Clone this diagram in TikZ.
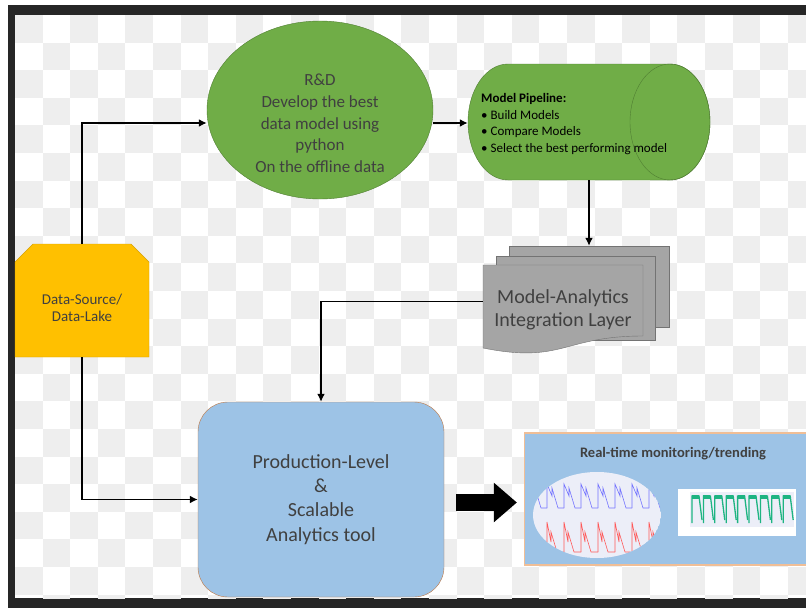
\documentclass[tikz,border=0pt]{standalone}
\usepackage{fontspec}
\setmainfont{Carlito}
\usepackage{xcolor}
\usepackage{tikz}
\usetikzlibrary{arrows.meta,positioning,calc,shapes}
\definecolor{framegrey}{RGB}{38,38,38}
\definecolor{checkgrey}{RGB}{238,238,238}
\definecolor{leafgreen}{RGB}{112,173,71}
\definecolor{leafedge}{RGB}{80,126,50}
\definecolor{lakegold}{RGB}{255,192,0}
\definecolor{lakeedge}{RGB}{214,160,0}
\definecolor{layergrey}{RGB}{165,165,165}
\definecolor{layeredge}{RGB}{115,115,115}
\definecolor{toolblue}{RGB}{157,195,230}
\definecolor{tooledge}{RGB}{190,120,70}
\definecolor{monedge}{RGB}{240,190,150}
\definecolor{inktext}{RGB}{64,64,64}
\definecolor{plotbg}{RGB}{236,238,248}
\definecolor{trendteal}{RGB}{30,180,130}

\begin{document}
\begin{tikzpicture}[x=1pt, y=-1pt, every node/.style={text=inktext, align=center, inner sep=0pt},
  flow/.style={-{Latex[length=8pt,width=8pt]}, line width=1.6pt}]
\useasboundingbox (0,0) rectangle (806,608);
\fill[white] (0,0) rectangle (806,608);
\fill[framegrey] (8,5) rectangle (806,608);
\fill[white] (15,15) rectangle (806,598);
% checkered backdrop
\begin{scope}
\clip (15,15) rectangle (806,598);
\foreach \i in {0,...,28}{
  \foreach \j in {0,...,21}{
    \pgfmathtruncatemacro{\odd}{mod(\i+\j,2)}
    \ifnum\odd=0 \fill[checkgrey] ({15+27.6*\i},{15+27.6*\j}) rectangle +(27.6,27.6); \fi
  }
}
\end{scope}
% data source
\filldraw[fill=lakegold, draw=lakeedge] (15,262) -- (33,244) -- (131,244) -- (149,262) -- (149,357) -- (15,357) -- cycle;
\node[minimum width=134, minimum height=113] (ds) at (82,300.5) {};
\node[font=\fontsize{15}{16.5}\selectfont] (dslabel) at (82,308) {Data-Source/\\Data-Lake};
% R&D
\node[ellipse, draw=leafedge, fill=leafgreen, minimum width=226, minimum height=178] (rd) at (320,110) {};
\node[font=\fontsize{17}{21.7}\selectfont] (rdlabel) at (320,123.5)
  {R\&D\\Develop the best\\data model using\\python\\On the offline data};
% model pipeline
\filldraw[fill=leafgreen, draw=leafedge] (670,64) -- (508,64) arc[start angle=270, end angle=90, x radius=40, y radius=58]
  -- (670,180) arc[start angle=90, end angle=-90, x radius=40, y radius=58] -- cycle;
\draw[leafedge] (670,122) ellipse [x radius=40, y radius=58];
\node[minimum width=242, minimum height=116] (pipe) at (589,122) {};
\node[anchor=west, align=left, text=black, font=\fontsize{13}{16.5}\selectfont] (pipetxt) at (481,124)
  {\textbf{Model Pipeline:}\\\textbullet\ Build Models\\\textbullet\ Compare Models\\\textbullet\ Select the best performing model};
% integration layer
\filldraw[fill=layergrey, draw=layeredge] (509,246) rectangle (669,327);
\filldraw[fill=layergrey, draw=layeredge] (496,256) rectangle (655,340);
\filldraw[fill=layergrey, draw=layeredge] (483,265) -- (643,265) -- (643,336) .. controls (563,336) and (563,364) .. (483,348) -- cycle;
\node[minimum width=186, minimum height=111] (mal) at (576,301.5) {};
\node[font=\fontsize{20}{23}\selectfont] (mallabel) at (563,309.5) {Model-Analytics\\Integration Layer};
% production tool
\node[draw=tooledge, fill=toolblue, rounded corners=30pt, minimum width=246, minimum height=195, font=\fontsize{20}{24.3}\selectfont] (prod) at (321,499.5)
  {Production-Level\\\&\\Scalable\\Analytics tool};
% monitoring panel
\node[draw=monedge, fill=toolblue, line width=1.2pt, minimum width=287, minimum height=132] (mon) at (668,499) {};
\node[below=15pt of mon.north, xshift=5pt, font=\fontsize{14.5}{17}\selectfont\bfseries] (montitle) {Real-time monitoring/trending};
\begin{scope}
\clip (597,515) ellipse [x radius=64, y radius=43];
\fill[plotbg] (597,515) ellipse [x radius=64, y radius=43];
\foreach \k in {0,...,7}{
  \draw[blue!55, line width=0.6pt] ({530+17*\k},508) -- ++(0,-24) -- ++(5,12) -- ++(0,-8) -- ++(6,20) -- ++(6,0);
  \draw[red!65, line width=0.6pt] ({530+17*\k},552) -- ++(0,-30) -- ++(4,20) -- ++(0,-10) -- ++(6,20) -- ++(7,0);
}
\end{scope}
\fill[white] (678,489) rectangle (796,536);
\fill[plotbg] (690,492) rectangle (794,527);
\foreach \k in {0,...,8}{
  \draw[trendteal, line width=1.3pt] ({692+11.4*\k},523) -- ++(0,-27) -- ++(7,0) -- ++(3,24);
  \fill[trendteal] ({692+11.4*\k},495) rectangle +(7,4);
}
% connectors
\draw[flow] (ds.north) |- ([yshift=-13pt]rd.west);
\draw[flow] (ds.south) |- (prod.west);
\draw[flow] ([yshift=-13pt]rd.east) -- ([yshift=-13pt]rd.east -| pipe.west);
\draw[flow] (pipe.south) -- (pipe.south |- mal.north);
\draw[flow] (mal.west) -| (prod.north);
\draw[line width=17pt, -{Triangle[length=23pt,width=38pt]}, shorten <=12pt, shorten >=7pt] ([yshift=-3pt]prod.east) -- ([yshift=-3pt]prod.east -| mon.west);
\end{tikzpicture}
\end{document}
